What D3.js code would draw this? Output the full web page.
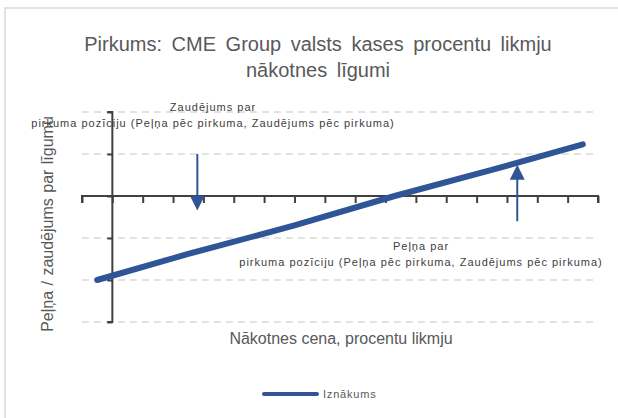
<!DOCTYPE html>
<html>
<head>
<meta charset="utf-8">
<script src="https://cdn.jsdelivr.net/npm/d3@7"></script>
<style>
  body { margin: 0; background: #fff; }
  svg { display: block; font-family: "Liberation Sans", Arial, sans-serif; }
</style>
</head>
<body>
<svg id="chart" width="618" height="418"></svg>
<script>
/* global d3 */
// payoff of a long futures position
const priceX = [-0.5, 2.5, 6, 9.3, 12.5, 15.5]
const payoff = [-2, -1.38, -0.7, 0, 0.62, 1.23]
const gridLevels = [-3, -2, -1, 1, 2]
const yTicks = [-3, -2, -1, 0, 1, 2]
const xTicks = d3.range(-1, 17)
const lossArrow = [[2.8, 1], [2.8, -0.36]]
const gainArrow = [[13.34, -0.6], [13.34, 0.76]]
const titleLines = ['Pirkums: CME Group valsts kases procentu likmju', 'nākotnes līgumi']
const lossNote = ['Zaudējums par', 'pirkuma pozīciju (Peļņa pēc pirkuma, Zaudējums pēc pirkuma)']
const gainNote = ['Peļņa par', 'pirkuma pozīciju (Peļņa pēc pirkuma, Zaudējums pēc pirkuma)']
const seriesName = 'Iznākums'

const blue = '#2f5597'
const axisColor = '#404040'
const svg = d3.select('#chart')

// outer frame (only top and left edges show in the crop)
svg.append('rect')
  .attr('x', 5).attr('y', 8)
  .attr('width', 640).attr('height', 440)
  .attr('fill', 'none')
  .attr('stroke', '#d9d9d9')
  .attr('stroke-width', 1.5)

const x = d3.scaleLinear().domain([-1, 16]).range([82, 598])
const y = d3.scaleLinear().domain([-3, 2]).range([322, 112])

// title
svg.append('text')
  .attr('x', 318).attr('y', 51)
  .attr('text-anchor', 'middle')
  .attr('fill', '#595959')
  .style('font-size', '20px')
  .style('word-spacing', '4px')
  .selectAll('tspan')
  .data(titleLines)
  .join('tspan')
  .attr('x', 318)
  .attr('dy', (d, i) => i === 0 ? 0 : 26)
  .text(d => d)

// dashed gridlines
svg.append('g')
  .selectAll('line')
  .data(gridLevels)
  .join('line')
  .attr('x1', x(-1)).attr('x2', x(15.85))
  .attr('y1', d => y(d)).attr('y2', d => y(d))
  .attr('stroke', '#d9d9d9')
  .attr('stroke-width', 1.5)
  .attr('stroke-dasharray', '7,5')

// x axis through zero, ticks pointing down
const xAxis = d3.axisBottom(x).tickValues(xTicks).tickSize(7).tickFormat('')
svg.append('g')
  .attr('transform', `translate(0,${y(0)})`)
  .call(xAxis)
  .call(g => g.selectAll('path, line').attr('stroke', axisColor).attr('stroke-width', 2))
  .call(g => g.select('.domain').attr('d', `M${x(-1)},7V0H${x(16)}V7`))

// y axis at x = 0, ticks pointing left
const yAxis = d3.axisLeft(y).tickValues(yTicks).tickSize(5).tickFormat('')
svg.append('g')
  .attr('transform', `translate(${x(0)},0)`)
  .call(yAxis)
  .call(g => g.selectAll('path, line').attr('stroke', axisColor).attr('stroke-width', 2))
  .call(g => g.select('.domain').attr('d', `M-5,${y(2)}H0V${y(-3)}H-5`))

// axis titles
svg.append('text')
  .attr('transform', `translate(53,${(y(2) + y(-3)) / 2 + 7}) rotate(-90)`)
  .attr('text-anchor', 'middle')
  .attr('fill', '#595959')
  .style('font-size', '16px')
  .style('word-spacing', '1px')
  .text('Peļņa / zaudējums par līgumu')

svg.append('text')
  .attr('x', 341).attr('y', 344)
  .attr('text-anchor', 'middle')
  .attr('fill', '#595959')
  .style('font-size', '16px')
  .text('Nākotnes cena, procentu likmju')

// payoff line
const line = d3.line()
  .x((d, i) => x(priceX[i]))
  .y(d => y(d))

svg.append('path')
  .datum(payoff)
  .attr('d', line)
  .attr('fill', 'none')
  .attr('stroke', blue)
  .attr('stroke-width', 6)
  .attr('stroke-linecap', 'round')

// arrows
svg.append('defs').append('marker')
  .attr('id', 'head')
  .attr('viewBox', '0 0 10 10')
  .attr('refX', 2).attr('refY', 5)
  .attr('markerWidth', 7.5).attr('markerHeight', 7.5)
  .attr('markerUnits', 'strokeWidth')
  .attr('orient', 'auto')
  .append('path')
  .attr('d', 'M0,0L10,5L0,10Z')
  .attr('fill', blue)

const arrowLine = d3.line().x(d => x(d[0])).y(d => y(d[1]))
svg.selectAll('.arrow')
  .data([lossArrow, gainArrow])
  .join('path')
  .attr('class', 'arrow')
  .attr('d', d => arrowLine([d[0], [d[1][0], d[1][1] + (d[1][1] > d[0][1] ? -0.3 : 0.3)]]))
  .attr('stroke', blue)
  .attr('stroke-width', 2)
  .attr('marker-end', 'url(#head)')

// annotations
function note (lines, cx, top) {
  svg.append('text')
    .attr('text-anchor', 'middle')
    .attr('fill', axisColor)
    .style('font-size', '11px')
    .style('letter-spacing', '1px')
    .selectAll('tspan')
    .data(lines)
    .join('tspan')
    .attr('x', cx)
    .attr('y', (d, i) => top + i * 16)
    .text(d => d)
}
note(lossNote, 213, 111)
note(gainNote, 421, 250)

// legend
svg.append('line')
  .attr('x1', 264).attr('x2', 317)
  .attr('y1', 394).attr('y2', 394)
  .attr('stroke', blue)
  .attr('stroke-width', 4)
  .attr('stroke-linecap', 'round')
svg.append('text')
  .attr('x', 323).attr('y', 398)
  .attr('fill', '#595959')
  .style('font-size', '11px')
  .style('letter-spacing', '0.8px')
  .text(seriesName)
</script>
</body>
</html>
